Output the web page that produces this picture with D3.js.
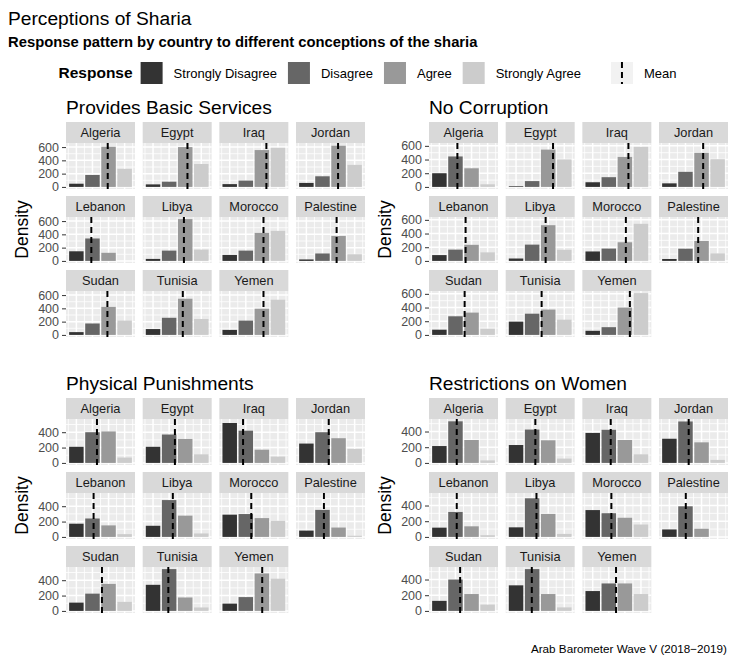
<!DOCTYPE html>
<html>
<head>
<meta charset="utf-8">
<script src="https://cdn.jsdelivr.net/npm/d3@7/dist/d3.min.js"></script>
<style>
  body { margin: 0; background: #fff; }
  svg { display: block; }
  text { font-family: "Liberation Sans", Arial, Helvetica, sans-serif; }
</style>
</head>
<body>
<svg id="chart" width="735" height="658"></svg>
<script>
// ---- data -------------------------------------------------------------
const countries = ["Algeria", "Egypt", "Iraq", "Jordan", "Lebanon", "Libya",
                   "Morocco", "Palestine", "Sudan", "Tunisia", "Yemen"];
const responses = ["Strongly Disagree", "Disagree", "Agree", "Strongly Agree"];
const responseFills = ["#333333", "#666666", "#999999", "#CCCCCC"];

// density per response [SD, D, A, SA] for each country (null = no bar)
const basicServices = [
  [48, 180, 605, 272], [38, 78, 600, 345], [42, 95, 555, 590], [60, 160, 620, 332],
  [145, 338, 122, null], [30, 155, 630, 170], [90, 155, 422, 452], [22, 112, 375, 100],
  [42, 172, 422, 215], [88, 258, 545, 240], [75, 215, 395, 530]
];
const basicServicesMean = [2.95, 3.14, 3.28, 2.97, 1.93, 2.92, 3.10, 2.88, 2.93, 2.85, 3.10];

const noCorruption = [
  [200, 445, 272, 38], [10, 85, 545, 402], [68, 142, 438, 585], [52, 220, 498, 405],
  [85, 165, 235, 125], [35, 238, 522, 163], [138, 180, 272, 542], [28, 178, 292, 110],
  [76, 272, 326, 90], [194, 310, 370, 222], [60, 113, 400, 611]
];
const noCorruptionMean = [2.12, 3.30, 3.22, 3.10, 2.63, 2.84, 3.06, 2.79, 2.57, 2.59, 3.31];

const physicalPunishments = [
  [210, 400, 410, 70], [210, 370, 312, 112], [520, 420, 172, 82], [252, 400, 322, 182],
  [172, 240, 150, 36], [145, 480, 277, 45], [290, 298, 245, 210], [82, 352, 122, 15],
  [108, 225, 352, 118], [340, 545, 175, 45], [95, 180, 488, 420]
];
const physicalPunishmentsMean = [2.28, 2.36, 1.83, 2.39, 2.07, 2.23, 2.34, 2.09, 2.59, 1.95, 3.02];

const restrictionsWomen = [
  [215, 530, 292, 32], [228, 425, 288, 55], [382, 422, 292, 110], [308, 528, 262, 38],
  [118, 318, 135, 22], [122, 492, 293, 38], [342, 302, 244, 158], [95, 390, 104, null],
  [128, 400, 215, 80], [326, 533, 215, 45], [253, 350, 350, 215]
];
const restrictionsWomenMean = [2.08, 2.20, 2.12, 2.20, 2.08, 2.27, 2.16, 2.02, 2.29, 1.98, 2.45];

const panelTitles = ["Provides Basic Services", "No Corruption",
                     "Physical Punishments", "Restrictions on Women"];
const ticksWide = [0, 200, 400, 600];
const ticksNarrow = [0, 200, 400];

const chartTitle = "Perceptions of Sharia";
const chartSubtitle = "Response pattern by country to different conceptions of the sharia";
const caption = "Arab Barometer Wave V (2018\u22122019)";

const panels = [
  { title: panelTitles[0], values: basicServices, means: basicServicesMean, ticks: ticksWide },
  { title: panelTitles[1], values: noCorruption, means: noCorruptionMean, ticks: ticksWide },
  { title: panelTitles[2], values: physicalPunishments, means: physicalPunishmentsMean, ticks: ticksNarrow },
  { title: panelTitles[3], values: restrictionsWomen, means: restrictionsWomenMean, ticks: ticksNarrow }
];

// ---- layout -----------------------------------------------------------
const W = 735, H = 658;
const colLeft = [66, 429];
const rowTop = [122, 398];
const facetW = 69, facetGap = 7.67;
const stripH = 21, plotH = 46, rowGap = 7;
const nCols = 4;

const svg = d3.select("#chart");
svg.append("rect").attr("width", W).attr("height", H).attr("fill", "#fff");

svg.append("text").attr("x", 8).attr("y", 25)
  .attr("font-size", 19.2).attr("fill", "#000").text(chartTitle);
svg.append("text").attr("x", 8).attr("y", 47)
  .attr("font-size", 14.8).attr("font-weight", "bold").attr("fill", "#000").text(chartSubtitle);
svg.append("text").attr("x", 727).attr("y", 653).attr("text-anchor", "end")
  .attr("font-size", 11.7).attr("fill", "#000").text(caption);

// ---- legend -----------------------------------------------------------
(function drawLegend() {
  const cy = 73, key = 22;
  const g = svg.append("g");
  let x = 0;
  const title = g.append("text").attr("x", x).attr("y", cy).attr("dy", "0.35em")
    .attr("font-size", 15.5).attr("font-weight", "bold").text("Response");
  x += title.node().getComputedTextLength() + 8;
  responses.forEach((r, i) => {
    g.append("rect").attr("x", x).attr("y", cy - key / 2).attr("width", key).attr("height", key)
      .attr("fill", responseFills[i]);
    x += key + 11;
    const t = g.append("text").attr("x", x).attr("y", cy).attr("dy", "0.35em")
      .attr("font-size", 13).text(r);
    x += t.node().getComputedTextLength() + (i < responses.length - 1 ? 11 : 30);
  });
  g.append("rect").attr("x", x).attr("y", cy - key / 2).attr("width", key).attr("height", key)
    .attr("fill", "#F2F2F2");
  g.append("line").attr("x1", x + key / 2).attr("x2", x + key / 2)
    .attr("y1", cy - key / 2).attr("y2", cy + key / 2)
    .attr("stroke", "#000").attr("stroke-width", 2).attr("stroke-dasharray", "6 4");
  x += key + 11;
  const mt = g.append("text").attr("x", x).attr("y", cy).attr("dy", "0.35em")
    .attr("font-size", 13).text("Mean");
  x += mt.node().getComputedTextLength();
  g.attr("transform", `translate(${(W - x) / 2},0)`);
})();

// ---- panels -----------------------------------------------------------
const x = d3.scaleLinear().domain([0.355, 4.645]).range([0, facetW]);

panels.forEach((p, pi) => {
  const left = colLeft[pi % 2];
  const top = rowTop[Math.floor(pi / 2)];
  const nRows = Math.ceil(countries.length / nCols);
  const blockH = nRows * (stripH + plotH) + (nRows - 1) * rowGap;

  const maxV = d3.max(p.values.flat());
  const y = d3.scaleLinear().domain([-0.05 * maxV, 1.05 * maxV]).range([plotH, 0]);
  const minor = d3.range(100, 1.05 * maxV, 200);

  svg.append("text").attr("x", left).attr("y", top - 8)
    .attr("font-size", 19.2).attr("fill", "#000").text(p.title);

  svg.append("text")
    .attr("transform", `translate(${left - 38},${top + blockH / 2}) rotate(-90)`)
    .attr("text-anchor", "middle").attr("font-size", 17.5).attr("fill", "#000")
    .text("Density");

  countries.forEach((c, ci) => {
    const fc = ci % nCols, fr = Math.floor(ci / nCols);
    const fx = left + fc * (facetW + facetGap);
    const fy = top + fr * (stripH + plotH + rowGap);
    const fg = svg.append("g").attr("transform", `translate(${fx},${fy})`);

    fg.append("rect").attr("width", facetW).attr("height", stripH).attr("fill", "#D9D9D9");
    fg.append("text").attr("x", facetW / 2).attr("y", stripH / 2).attr("dy", "0.35em")
      .attr("text-anchor", "middle").attr("font-size", 12.8).attr("fill", "#1A1A1A").text(c);

    const pg = fg.append("g").attr("transform", `translate(0,${stripH})`);
    pg.append("rect").attr("width", facetW).attr("height", plotH).attr("fill", "#EBEBEB");

    // grid
    pg.selectAll(".ymin").data(minor).join("line")
      .attr("x1", 0).attr("x2", facetW).attr("y1", d => y(d)).attr("y2", d => y(d))
      .attr("stroke", "#fff").attr("stroke-width", 0.8);
    pg.selectAll(".xmin").data([0.5, 1.5, 2.5, 3.5, 4.5]).join("line")
      .attr("y1", 0).attr("y2", plotH).attr("x1", d => x(d)).attr("x2", d => x(d))
      .attr("stroke", "#fff").attr("stroke-width", 0.8);
    pg.selectAll(".ymaj").data(p.ticks).join("line")
      .attr("x1", 0).attr("x2", facetW).attr("y1", d => y(d)).attr("y2", d => y(d))
      .attr("stroke", "#fff").attr("stroke-width", 1.5);
    pg.selectAll(".xmaj").data([1, 2, 3, 4]).join("line")
      .attr("y1", 0).attr("y2", plotH).attr("x1", d => x(d)).attr("x2", d => x(d))
      .attr("stroke", "#fff").attr("stroke-width", 1.5);

    // bars
    const bars = p.values[ci].map((v, i) => ({ v, i })).filter(d => d.v != null);
    pg.selectAll(".bar").data(bars).join("rect")
      .attr("x", d => x(d.i + 1 - 0.45))
      .attr("width", x(1.45) - x(0.55))
      .attr("y", d => y(d.v))
      .attr("height", d => y(0) - y(d.v))
      .attr("fill", d => responseFills[d.i]);

    // mean line
    const m = p.means[ci];
    pg.append("line").attr("x1", x(m)).attr("x2", x(m)).attr("y1", 0).attr("y2", plotH)
      .attr("stroke", "#000").attr("stroke-width", 2).attr("stroke-dasharray", "6 4");

    if (fc === 0) {
      const ax = pg.append("g").call(
        d3.axisLeft(y).tickValues(p.ticks).tickSize(4).tickPadding(3).tickFormat(d3.format("d")));
      ax.select(".domain").remove();
      ax.selectAll(".tick line").attr("stroke", "#333333");
      ax.selectAll(".tick text").attr("font-size", 12.5).attr("fill", "#4D4D4D")
        .attr("font-family", '"Liberation Sans", Arial, Helvetica, sans-serif');
    }
  });
});
</script>
</body>
</html>
